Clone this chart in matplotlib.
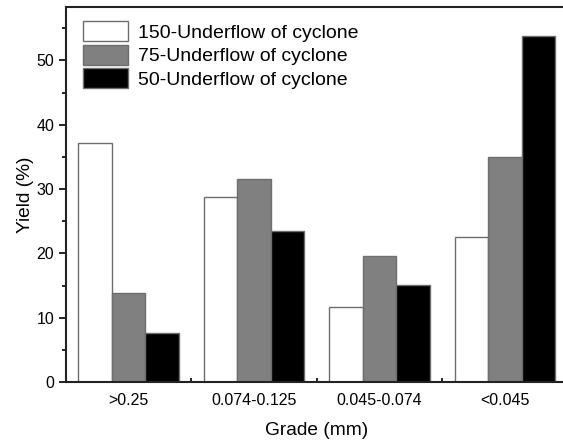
import matplotlib
matplotlib.use("Agg")
import matplotlib.pyplot as plt
import numpy as np

plt.rcParams['font.family'] = ['Liberation Sans', 'DejaVu Sans']

categories = [">0.25", "0.074-0.125", "0.045-0.074", "<0.045"]
series_names = ["150-Underflow of cyclone", "75-Underflow of cyclone", "50-Underflow of cyclone"]
yield_150 = [37.1, 28.7, 11.6, 22.6]
yield_75 = [13.9, 31.5, 19.6, 35.0]
yield_50 = [7.6, 23.5, 15.1, 53.8]

values = [yield_150, yield_75, yield_50]
colors = ["white", "#808080", "black"]

fig = plt.figure(figsize=(5.63, 4.40), dpi=100)
ax = fig.add_axes([66/563, 58/440, 501.6/563, 375/440])

x = np.arange(1, len(categories) + 1)
w = 0.267
for i, (vals, c, name) in enumerate(zip(values, colors, series_names)):
    ax.bar(x + (i - 1) * w, vals, width=w, color=c, edgecolor="#6e6e6e",
           linewidth=1.0, label=name, zorder=2)

ax.set_xlim(0.5, 4.5)
ax.set_ylim(0, 58.3)
ax.set_xticks(x)
ax.set_xticklabels(categories)
ax.set_xticks([1.5, 2.5, 3.5], minor=True)
ax.set_yticks([0, 10, 20, 30, 40, 50])
ax.set_yticks([5, 15, 25, 35, 45, 55], minor=True)

ax.tick_params(axis='x', which='major', direction='in', length=5, width=1.2, labelsize=11.5, pad=8)
ax.tick_params(axis='x', which='minor', direction='in', length=3, width=1.2)
ax.tick_params(axis='y', which='major', direction='out', length=5, width=1.2, labelsize=11.5)
ax.tick_params(axis='y', which='minor', direction='out', length=3, width=1.2)

for s in ax.spines.values():
    s.set_linewidth(1.5)
    s.set_color("#222222")

ax.set_xlabel("Grade (mm)", fontsize=13.8, labelpad=10)
ax.set_ylabel("Yield (%)", fontsize=13.8, labelpad=2)

ax.legend(loc="upper left", bbox_to_anchor=(17/501.6, 1 - 14/375), frameon=False,
          fontsize=14, handlelength=2.32, handleheight=1.2, labelspacing=0.16,
          handletextpad=0.5, borderpad=0, borderaxespad=0)

fig.savefig("out.png", dpi=100)
